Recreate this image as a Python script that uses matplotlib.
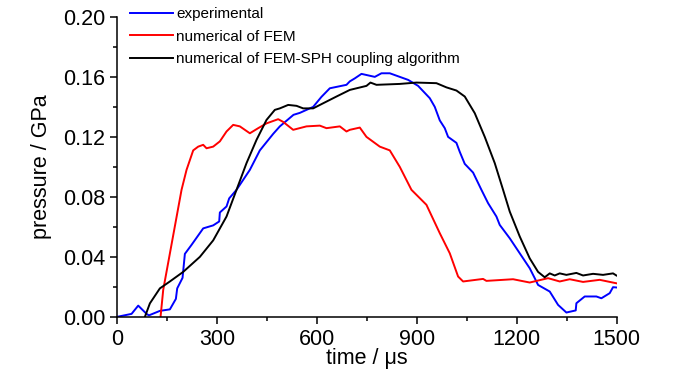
import matplotlib
matplotlib.use("Agg")
import matplotlib.pyplot as plt
from matplotlib.ticker import MultipleLocator, FormatStrFormatter

plt.rcParams["font.family"] = ["Liberation Sans", "DejaVu Sans"]

# experimental
exp_t = [0, 44, 64, 89, 96, 129, 159, 177, 181, 197, 204, 224, 259, 289, 307, 309, 329, 337, 359,
         399, 429, 469, 489, 530, 549, 589, 614, 639, 689, 699, 714, 734, 774, 794, 819, 849, 874,
         904, 939, 954, 969, 984, 994, 1019, 1029, 1044, 1069, 1094, 1114, 1139, 1149, 1179, 1209,
         1239, 1254, 1264, 1299, 1324, 1349, 1377, 1379, 1404, 1439, 1454, 1479, 1489, 1499]
exp_p = [0.0, 0.002, 0.0075, 0.002, 0.001, 0.004, 0.005, 0.012, 0.019, 0.026, 0.042, 0.048, 0.059,
         0.061, 0.0636, 0.0696, 0.0736, 0.079, 0.0847, 0.098, 0.111, 0.122, 0.127, 0.1347, 0.136,
         0.140, 0.1467, 0.1524, 0.1547, 0.157, 0.159, 0.162, 0.160, 0.1624, 0.1624, 0.160, 0.158,
         0.154, 0.1458, 0.140, 0.131, 0.1258, 0.120, 0.116, 0.110, 0.102, 0.0962, 0.0847, 0.0758,
         0.0669, 0.0613, 0.0524, 0.0424, 0.0324, 0.0258, 0.0213, 0.0169, 0.008, 0.0029, 0.0043,
         0.0091, 0.0136, 0.0136, 0.0124, 0.0158, 0.0198, 0.0196]

# numerical of FEM
fem_t = [131, 139, 194, 209, 229, 244, 259, 269, 289, 309, 329, 349, 369, 399, 424, 449, 484, 499,
         529, 569, 609, 629, 669, 689, 699, 729, 749, 789, 819, 849, 884, 929, 969, 999, 1024, 1039,
         1099, 1109, 1189, 1239, 1294, 1329, 1359, 1399, 1449, 1499]
fem_p = [0.0, 0.018, 0.0847, 0.098, 0.111, 0.1135, 0.1147, 0.1124, 0.1135, 0.117, 0.1236, 0.128,
         0.127, 0.1224, 0.1258, 0.129, 0.1318, 0.130, 0.1247, 0.127, 0.1275, 0.1258, 0.127, 0.1236,
         0.1247, 0.1262, 0.120, 0.1135, 0.111, 0.100, 0.0847, 0.0747, 0.0558, 0.0424, 0.0269,
         0.0236, 0.0253, 0.024, 0.0251, 0.0229, 0.0258, 0.0236, 0.0251, 0.0233, 0.0247, 0.0224]

# numerical of FEM-SPH coupling algorithm
sph_t = [84, 99, 129, 159, 199, 249, 289, 329, 359, 389, 419, 449, 474, 489, 514, 539, 559, 589,
         619, 659, 699, 749, 761, 779, 849, 899, 959, 989, 1019, 1044, 1074, 1104, 1134, 1159, 1179,
         1209, 1239, 1264, 1284, 1299, 1314, 1329, 1349, 1379, 1399, 1429, 1459, 1489, 1499]
sph_p = [0.0, 0.009, 0.019, 0.0236, 0.030, 0.040, 0.051, 0.0669, 0.0847, 0.1025, 0.118, 0.1313,
         0.138, 0.139, 0.1413, 0.1407, 0.139, 0.139, 0.1424, 0.1469, 0.1513, 0.154, 0.1562, 0.1547,
         0.1553, 0.1562, 0.1558, 0.153, 0.1509, 0.1469, 0.1358, 0.120, 0.1025, 0.0847, 0.0702,
         0.0536, 0.039, 0.030, 0.0264, 0.029, 0.0276, 0.029, 0.028, 0.0293, 0.0276, 0.0287, 0.028,
         0.029, 0.0276]

fig = plt.figure(figsize=(7, 3.75), dpi=100)
ax = fig.add_axes([0.167, 0.155, 0.714, 0.80])

ax.plot(exp_t, exp_p, color="#0000ff", lw=1.4, label="experimental")
ax.plot(fem_t, fem_p, color="#ff0000", lw=1.4, label="numerical of FEM")
ax.plot(sph_t, sph_p, color="black", lw=1.4, label="numerical of FEM-SPH coupling algorithm")

ax.set_xlim(0, 1500)
ax.set_ylim(0, 0.20)
ax.xaxis.set_major_locator(MultipleLocator(300))
ax.xaxis.set_minor_locator(MultipleLocator(150))
ax.yaxis.set_major_locator(MultipleLocator(0.04))
ax.yaxis.set_minor_locator(MultipleLocator(0.02))
ax.yaxis.set_major_formatter(FormatStrFormatter("%.2f"))
for side in ("top", "right"):
    ax.spines[side].set_visible(False)
for side in ("left", "bottom"):
    ax.spines[side].set_linewidth(1.1)
ax.tick_params(which="major", direction="out", length=5, width=1.1, labelsize=15.5)
ax.tick_params(which="minor", direction="out", length=3, width=1.1)

ax.set_xlabel("time / μs", fontsize=15.5, labelpad=-1)
ax.set_ylabel("pressure / GPa", fontsize=15.5, labelpad=8)

ax.legend(loc="upper left", bbox_to_anchor=(0.026, 1.033), frameon=False, fontsize=11,
          handlelength=2.8, handletextpad=0.25, labelspacing=0.56, borderaxespad=0, borderpad=0)

fig.savefig("out.png", dpi=100)
